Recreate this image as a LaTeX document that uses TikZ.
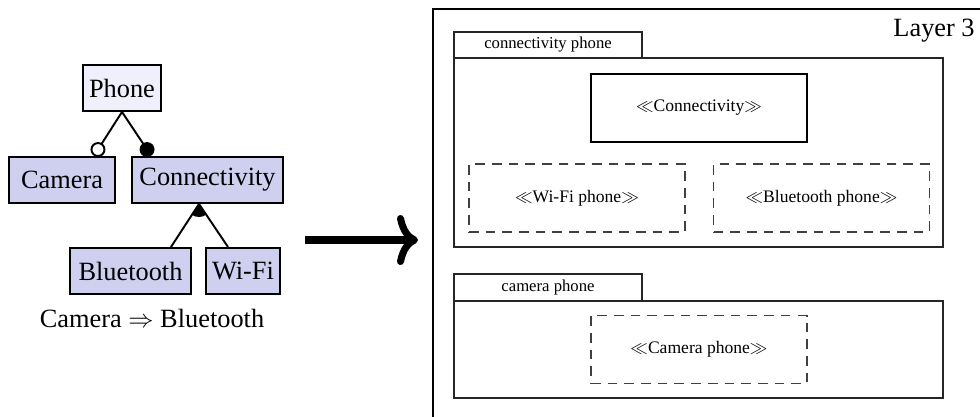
\documentclass[tikz,border=0pt]{standalone}
\usepackage{fontspec}
\setmainfont{Liberation Serif}
\usepackage{amsmath}
\usepackage{amssymb}
\usetikzlibrary{arrows.meta}
\definecolor{featfill}{RGB}{207,207,240}
\definecolor{rootfill}{RGB}{240,240,253}

\begin{document}
\begin{tikzpicture}[x=0.02cm,y=0.02cm,
	feat/.style={draw,line width=1.1pt,fill=featfill,minimum height=0.92cm,inner sep=0pt,font=\fontsize{15}{18}\selectfont},
	link/.style={line width=1.1pt},
	pkg/.style={draw,line width=0.8pt,black!85},
	part/.style={draw,line width=0.8pt,minimum width=4.32cm,minimum height=1.36cm,font=\fontsize{10}{12}\selectfont},
	dpart/.style={part,dash pattern=on 5.5pt off 4pt,draw=black!75}]
	\useasboundingbox (0,0) rectangle (980,-416);
	\clip (0,0) rectangle (980,-416);
	% feature model
	\node[feat,fill=rootfill,minimum width=1.56cm] (phone) at (122,-88) {Phone};
	\node[feat,minimum width=2.12cm] (camera) at (62,-180) {Camera};
	\node[feat,minimum width=3.02cm] (conn) at (207.5,-180) {Connectivity};
	\node[feat,minimum width=2.42cm] (bt) at (130.5,-271) {Bluetooth};
	\node[feat,minimum width=1.48cm] (wifi) at (243,-271) {Wi-Fi};
	\node[font=\fontsize{15}{18}\selectfont] (constr) at (152,-318) {Camera $\Rightarrow$ Bluetooth};
	\coordinate[xshift=-0.36cm,yshift=0.13cm] (camtop) at (camera.north east);
	\coordinate[xshift=0.32cm,yshift=0.13cm] (conntop) at (conn.north west);
	\coordinate[xshift=-0.17cm] (apex) at (conn.south);
	\coordinate[xshift=-0.42cm] (bttop) at (bt.north east);
	\coordinate[xshift=0.46cm] (wifitop) at (wifi.north west);
	\draw[link] (phone.south) -- (camtop);
	\draw[link] (phone.south) -- (conntop);
	\draw[link,fill=white] (camtop) circle[radius=0.13cm];
	\draw[link,fill=black] (conntop) circle[radius=0.13cm];
	\draw[link] (bttop) -- (apex) -- (wifitop);
	\fill (apex) -- ++(-123:0.26cm) arc[start angle=-123,end angle=-55,radius=0.26cm] -- cycle;
	% transformation arrow
	\coordinate (from) at (305,-240);
	\coordinate (to) at (418,-240);
	\draw[line width=4pt,-{Computer Modern Rightarrow[length=0.42cm,width=1.0cm,line cap=round]}] (from) -- (to);
	% layer 3
	\draw[line width=0.8pt] (433,-430) -- (433,-9) -- (990,-9);
	\node[anchor=base east,inner sep=0pt,font=\fontsize{15}{18}\selectfont] (layer) at (975,-36) {Layer 3};
	\draw[pkg] (454,-32) rectangle (642,-58);
	\draw[pkg] (454,-58) rectangle (943,-247);
	\node[font=\fontsize{9.5}{11}\selectfont] (pkgconn) at (548,-45) {connectivity phone};
	\node[part] (cconn) at (699,-108) {$\ll$Connectivity$\gg$};
	\node[dpart] (cwifi) at (577,-198) {$\ll$Wi-Fi phone$\gg$};
	\node[dpart] (cbt) at (821.5,-198) {$\ll$Bluetooth phone$\gg$};
	\draw[pkg] (454,-274) rectangle (642,-301);
	\draw[pkg] (454,-301) rectangle (943,-398);
	\node[font=\fontsize{9.5}{11}\selectfont] (pkgcam) at (548,-287.5) {camera phone};
	\node[dpart] (ccam) at (699,-349.5) {$\ll$Camera phone$\gg$};
\end{tikzpicture}
\end{document}
